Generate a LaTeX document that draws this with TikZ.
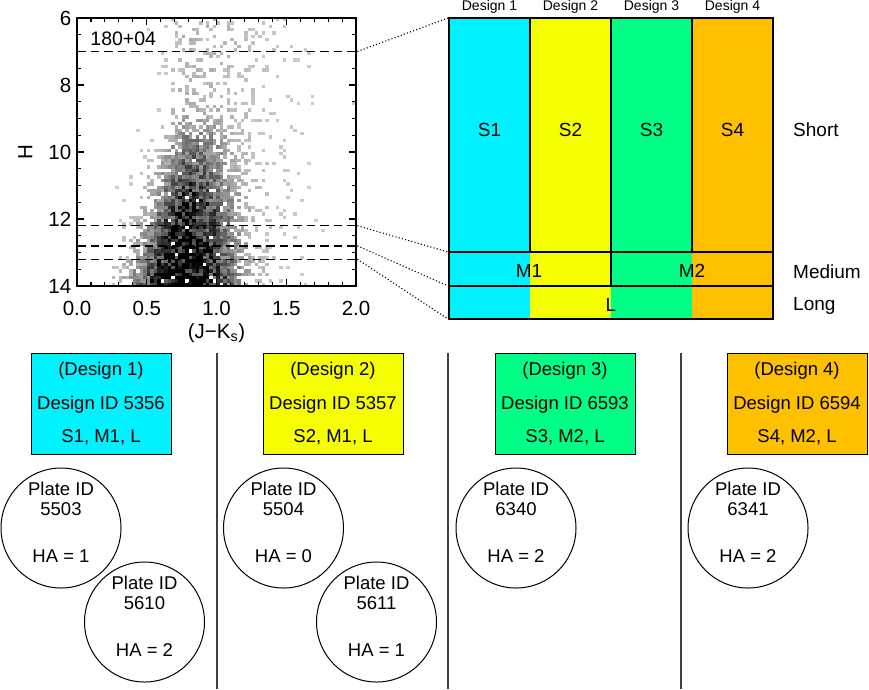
\documentclass[tikz,border=0pt]{standalone}
\usepackage{fontspec}
\setmainfont{Liberation Sans}
\usetikzlibrary{positioning}
\definecolor{dsgn1}{RGB}{0,242,255}
\definecolor{dsgn2}{RGB}{245,255,0}
\definecolor{dsgn3}{RGB}{0,255,134}
\definecolor{dsgn4}{RGB}{255,192,0}
\tikzset{
	frame/.style={line width=1.8pt},
	cut/.style={line width=1.4pt, dash pattern=on 8.5pt off 5pt},
	zoomline/.style={line width=1.1pt, dash pattern=on 1.1pt off 2.2pt},
	grid/.style={line width=1.2pt},
	sep/.style={line width=1.3pt, black!75}
}

\begin{document}
\begin{tikzpicture}[x=1pt, y=-1pt,
		txt/.style={inner sep=0pt, font=\fontsize{19}{20}\selectfont},
		tick/.style={inner sep=0pt, font=\fontsize{20.5}{22}\selectfont},
		head/.style={inner sep=0pt, font=\fontsize{14}{15}\selectfont},
		design/.style={
			draw,
			line width=1pt,
			minimum width=140pt,
			minimum height=101pt,
			align=center,
			inner sep=0pt,
			font=\fontsize{18.5}{33.5}\selectfont
		},
		plate/.style={draw, circle, line width=1pt, minimum size=120pt, inner sep=0pt},
		platetxt/.style={align=center, inner sep=0pt, font=\fontsize{18.5}{20}\selectfont}
	]
	
	\useasboundingbox (0,0) rectangle (869,689);
	
	% colour-magnitude plane
	\begin{scope}[shift={(77,18)}, x=139.5pt, y=-33.5pt]
		\pgfmathsetseed{11}
		\foreach \i in {10,...,79}{
			\pgfmathsetmacro\hcol{(\i+0.5)*0.025}
			\foreach \j in {0,...,79}{
				\pgfmathsetmacro\hmag{6+(\j+0.5)*0.1}
				\pgfmathsetmacro\hwt{max(0,min(1,(\hmag-8.6)/5.4))}
				\pgfmathsetmacro\hmu{0.79-0.015*(\hmag-12)}
				\pgfmathsetmacro\hz{(\hcol-\hmu)/ifthenelse(\hcol<\hmu,0.12+0.1*\hwt,0.16+0.07*\hwt)}
				\pgfmathsetmacro\hy{(\hcol-0.8)/ifthenelse(\hcol<0.8,0.1,0.38)}
				\pgfmathsetmacro\hden{\hwt*exp(-min(9,\hz*\hz/2))+0.1*exp(-min(9,\hy*\hy/2))}
				\pgfmathtruncatemacro\hhit{rnd<min(0.96,3*\hden)}
				\ifnum\hhit=1
					\pgfmathtruncatemacro\hgray{min(100,20+110*\hden*(0.4+0.9*rnd))}
					\fill[black!\hgray] (\hcol-0.0125,\hmag-6.05) rectangle ++(0.025,0.1);
				\fi
			}
		}
		
		\foreach \h/\n in {1/1, 6.2/2, 6.8/3, 7.2/4}{
			\draw[cut] (0,\h) -- (2,\h);
			\coordinate (cut\n) at (2.01,\h);
		}
		
		\draw[frame] (0,0) rectangle (2,8);
		\foreach \k in {1,...,15}{
			\pgfmathsetmacro\tl{mod(\k,4)==0 ? 7 : 4}
			\draw[frame, line width=1.1pt] (0,\k*0.5) -- ++(\tl pt,0pt);
			\draw[frame, line width=1.1pt] (2,\k*0.5) -- ++(-\tl pt,0pt);
		}
		\foreach \k in {1,...,19}{
			\pgfmathsetmacro\tl{mod(\k,5)==0 ? 7 : 4}
			\draw[frame, line width=1.1pt] (\k*0.1,8) -- ++(0pt,\tl pt);
			\draw[frame, line width=1.1pt] (\k*0.1,0) -- ++(0pt,-\tl pt);
		}
		
		\foreach \v in {6,8,10,12,14}
			\node[tick, anchor=east] (ylab\v) at (-0.04,\v-6) {\v};
		\foreach \v in {0.0,0.5,1.0,1.5,2.0}
			\node[tick] (xlab\v) at (\v,8.66) {\v};
		
		\node[tick] (xtitle) at (1,9.4) {(J−K\textsubscript{s})};
		\node[tick, rotate=90] (ytitle) at (-0.37,4) {H};
		\node[txt, anchor=west, font=\fontsize{19.5}{20}\selectfont] (field) at (0.095,0.63) {180+04};
	\end{scope}
	
	% design map
	\foreach \k/\col in {1/dsgn1, 2/dsgn2, 3/dsgn3, 4/dsgn4}{
		\fill[\col] ({449+(\k-1)*81},18) rectangle ++(81,301);
		\node[head] (hd\k) at ({489.5+(\k-1)*81},7) {Design \k};
		\node[txt] (s\k) at ({489.5+(\k-1)*81},130) {S\k};
	}
	\draw[grid] (449,18) rectangle (773,319);
	\draw[grid] (449,252) -- (773,252) (449,286) -- (773,286);
	\foreach \xx in {530,611,692}
		\draw[grid] (\xx,18) -- (\xx,252);
	\draw[grid] (611,252) -- (611,286);
	
	\node[txt] (m1) at (529,271) {M1};
	\node[txt] (m2) at (692,271) {M2};
	\node[txt] (long) at (611,305) {L};
	\node[txt, anchor=west] (shortlab) at (793,130) {Short};
	\node[txt, anchor=west] (mediumlab) at (793,272) {Medium};
	\node[txt, anchor=west] (longlab) at (793,306) {Long};
	
	\coordinate (map1) at (448,18);
	\coordinate (map2) at (448,252);
	\coordinate (map3) at (448,286);
	\coordinate (map4) at (448,319);
	\foreach \n in {1,...,4}
		\draw[zoomline] (cut\n) -- (map\n);
	
	% designs and plates
	\foreach \xx in {217,448,681}
		\draw[sep] (\xx,353) -- (\xx,689);
	
	\node[design, fill=dsgn1] (d5356) at (101,403.5) {(Design 1)\\Design ID 5356\\S1, M1, L};
	\node[design, fill=dsgn2] (d5357) at (333,403.5) {(Design 2)\\Design ID 5357\\S2, M1, L};
	\node[design, fill=dsgn3] (d6593) at (565,403.5) {(Design 3)\\Design ID 6593\\S3, M2, L};
	\node[design, fill=dsgn4] (d6594) at (797,403.5) {(Design 4)\\Design ID 6594\\S4, M2, L};
	
	\foreach \pid/\px/\py/\ha in {5503/61/528/1, 5610/144.5/622/2, 5504/283.5/528/0,
		5611/376.5/622/1, 6340/516/528/2, 6341/748/528/2}{
		\node[plate] (p\pid) at (\px,\py) {};
		\node[platetxt] (p\pid id) at ([yshift=29pt]p\pid.center) {Plate ID\\\pid};
		\node[platetxt] (p\pid ha) at ([yshift=-28pt]p\pid.center) {HA = \ha};
	}
	
\end{tikzpicture}
\end{document}
